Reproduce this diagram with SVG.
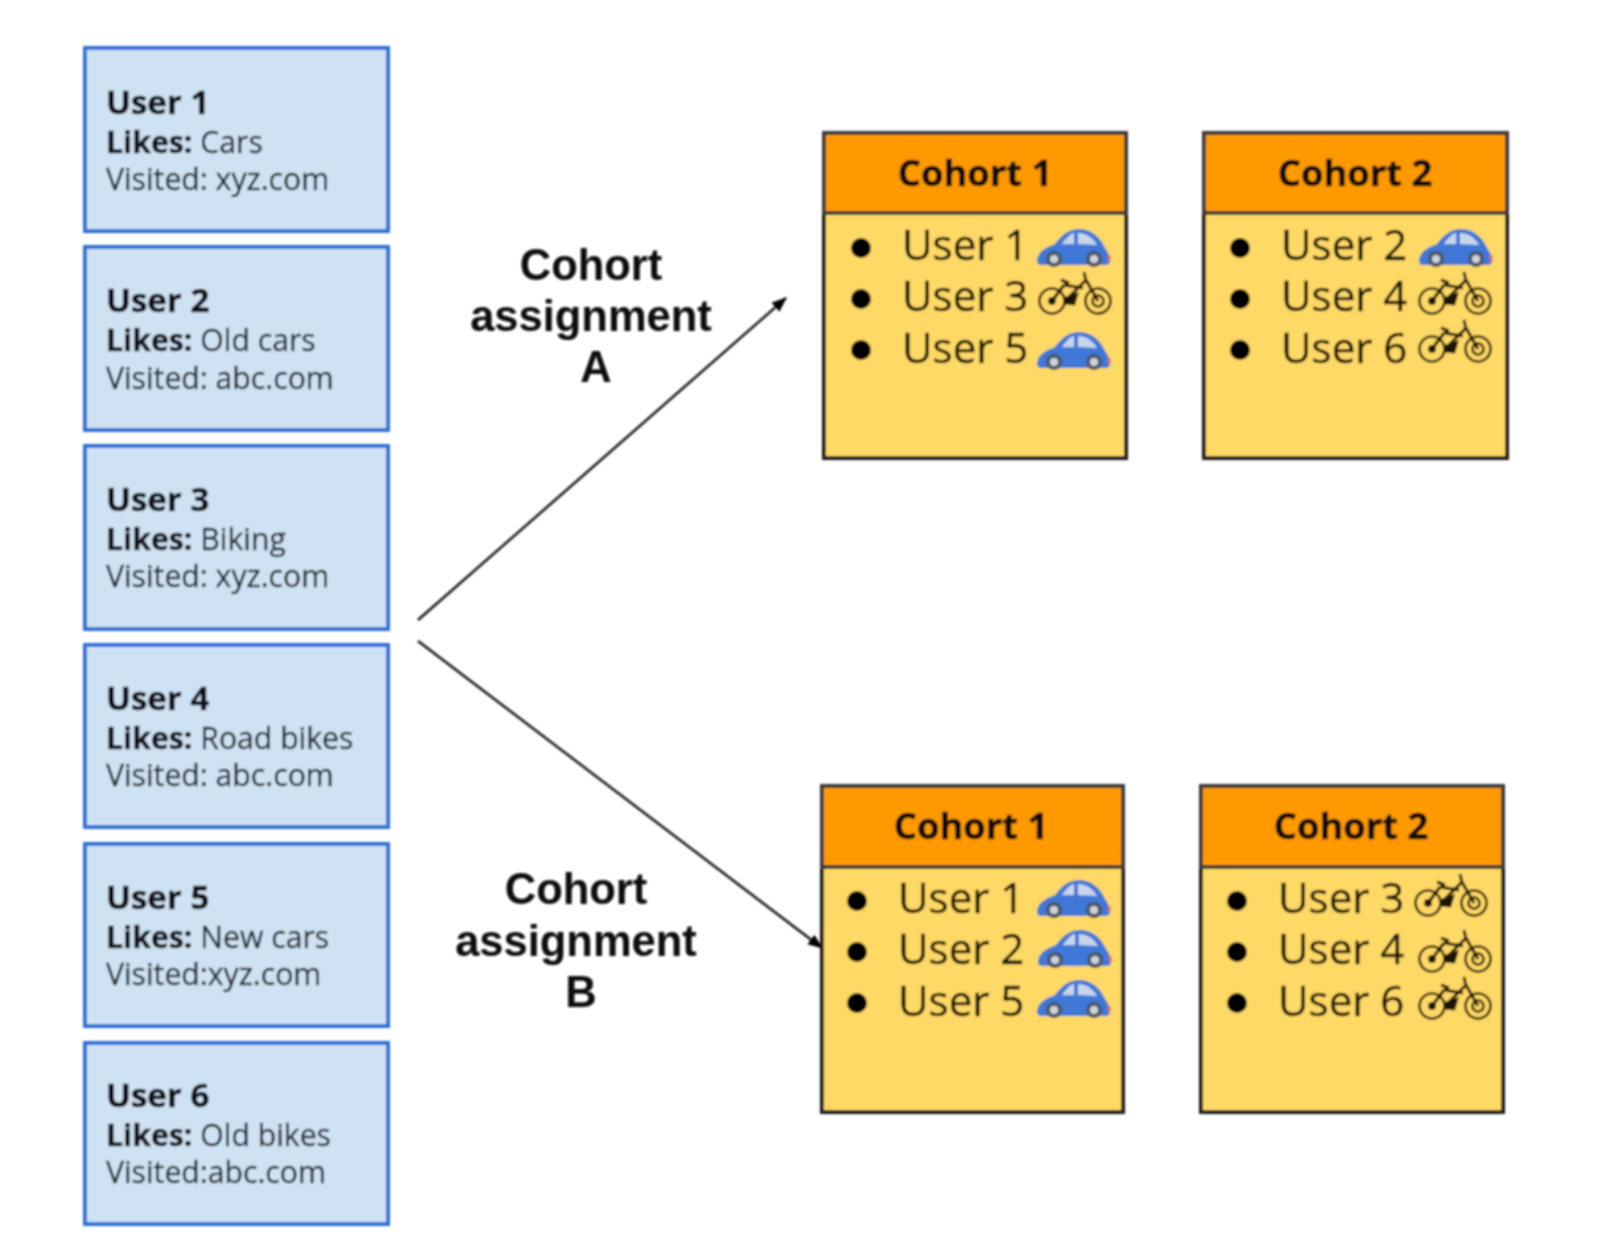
<svg xmlns="http://www.w3.org/2000/svg" xmlns:xlink="http://www.w3.org/1999/xlink" width="1600" height="1255" viewBox="0 0 1600 1255">
<style>
text{font-family:"Open Sans","Noto Sans",sans-serif;fill:#111}
.ub{fill:#cfe2f3;stroke:#2f6fd6;stroke-width:4}
.t1{font-size:33px;font-weight:700;fill:#0c0f14;stroke:#0c0f14;stroke-width:.5}
.t2{font-size:30.2px;fill:#1c2127;stroke:#1c2127;stroke-width:.35}
.t2 .b{font-weight:700;fill:#0c0f13;stroke:#0c0f13;stroke-width:.4}
.hd{fill:#ff9900;stroke:#3a3a3a;stroke-width:4}
.bd{fill:#ffd966;stroke:#1c1c1c;stroke-width:4}
.ht{font-size:36.3px;font-weight:700;text-anchor:middle;fill:#0c0a02;stroke:#0c0a02;stroke-width:.5}
.li{font-size:42px;fill:#171205;stroke:#171205;stroke-width:.45}
.lab{font-family:"Liberation Sans",Arial,sans-serif;font-size:43.5px;font-weight:700;text-anchor:middle;fill:#0a0a0a}
.conn{stroke:#111;stroke-width:2.4;fill:none}
.dot{fill:#000}
</style>
<defs>
<filter id="soft" x="-2%" y="-2%" width="104%" height="104%"><feGaussianBlur stdDeviation="0.8"/></filter>
<marker id="ah" markerUnits="userSpaceOnUse" markerWidth="16" markerHeight="14" refX="14" refY="6" orient="auto"><path d="M0 0L15 6L0 12Z" fill="#000"/></marker>
<g id="car">
<path d="M0 31C1 22 10 18 18 15C25 5 33 0 42 0C53 0 63 7 68 19C71 23 73 27 73 32C73 35 71 36 68 36H4C1 36 0 34 0 31Z" fill="#3f78d8"/>
<path d="M25 15C29 9 33 5 37 4V15ZM41 4C50 4 56 9 60 16L41 15Z" fill="#c9d5e8"/>
<rect x="71" y="26" width="2.5" height="6" fill="#d9654f"/>
<circle cx="17" cy="30" r="8" fill="#4a5568"/><circle cx="17" cy="30" r="4" fill="#d0d4da"/>
<circle cx="57" cy="30" r="8" fill="#4a5568"/><circle cx="57" cy="30" r="4" fill="#d0d4da"/>
</g>
<g id="bike" fill="none" stroke="#1c1604" stroke-width="2.6">
<circle cx="15" cy="29" r="12.5"/><circle cx="15" cy="29" r="2.6" fill="#1c1604"/>
<circle cx="61" cy="29" r="12.5"/><circle cx="61" cy="29" r="5.5"/>
<path d="M15 29L27 13M28 29L49 8L61 29M27 13L46 16M24 8L32 11M47 0L49 9" stroke-width="3"/>
<path d="M29 26L40 22L37 32L28 31Z" fill="#1c1604"/>
</g>
</defs>
<rect width="1600" height="1255" fill="#fff"/>
<g filter="url(#soft)">
<g id="connectors">
<line class="conn" x1="418" y1="620" x2="786" y2="298" marker-end="url(#ah)"/>
<line class="conn" x1="418" y1="641" x2="822" y2="948" marker-end="url(#ah)"/>
</g>
<g id="user1"><rect class="ub" x="85" y="48" width="303" height="183"/><text class="t1" x="106" y="114">User 1</text><text class="t2" x="106" y="153"><tspan class="b">Likes:</tspan> Cars</text><text class="t2" x="106" y="190">Visited: xyz.com</text></g>
<g id="user2"><rect class="ub" x="85" y="247" width="303" height="183"/><text class="t1" x="106" y="312">User 2</text><text class="t2" x="106" y="351"><tspan class="b">Likes:</tspan> Old cars</text><text class="t2" x="106" y="389">Visited: abc.com</text></g>
<g id="user3"><rect class="ub" x="85" y="446" width="303" height="183"/><text class="t1" x="106" y="511">User 3</text><text class="t2" x="106" y="550"><tspan class="b">Likes:</tspan> Biking</text><text class="t2" x="106" y="587">Visited: xyz.com</text></g>
<g id="user4"><rect class="ub" x="85" y="645" width="303" height="182"/><text class="t1" x="106" y="710">User 4</text><text class="t2" x="106" y="749"><tspan class="b">Likes:</tspan> Road bikes</text><text class="t2" x="106" y="786">Visited: abc.com</text></g>
<g id="user5"><rect class="ub" x="85" y="844" width="303" height="182"/><text class="t1" x="106" y="909">User 5</text><text class="t2" x="106" y="948"><tspan class="b">Likes:</tspan> New cars</text><text class="t2" x="106" y="985">Visited:xyz.com</text></g>
<g id="user6"><rect class="ub" x="85" y="1043" width="303" height="181"/><text class="t1" x="106" y="1107">User 6</text><text class="t2" x="106" y="1146"><tspan class="b">Likes:</tspan> Old bikes</text><text class="t2" x="106" y="1183">Visited:abc.com</text></g>
<g id="labelA"><text class="lab" x="591" y="280">Cohort</text><text class="lab" x="591" y="331">assignment</text><text class="lab" x="596" y="382">A</text></g>
<g id="labelB"><text class="lab" x="576" y="904">Cohort</text><text class="lab" x="576" y="956">assignment</text><text class="lab" x="581" y="1007">B</text></g>
<g id="cohortA1">
<rect class="bd" x="824" y="212" width="302" height="246"/><rect class="hd" x="824" y="133" width="302" height="80"/>
<text class="ht" x="975" y="186">Cohort 1</text>
<circle class="dot" cx="861" cy="248" r="10"/><circle class="dot" cx="861" cy="299" r="10"/><circle class="dot" cx="861" cy="350" r="10"/>
<text class="li" x="902" y="260">User 1</text><text class="li" x="902" y="311">User 3</text><text class="li" x="902" y="363">User 5</text>
<use href="#car" x="1037" y="229"/><use href="#bike" x="1037" y="272"/><use href="#car" x="1037" y="332"/>
</g>
<g id="cohortA2">
<rect class="bd" x="1204" y="212" width="303" height="246"/><rect class="hd" x="1204" y="133" width="303" height="80"/>
<text class="ht" x="1355" y="186">Cohort 2</text>
<circle class="dot" cx="1240" cy="248" r="10"/><circle class="dot" cx="1240" cy="299" r="10"/><circle class="dot" cx="1240" cy="350" r="10"/>
<text class="li" x="1281" y="260">User 2</text><text class="li" x="1281" y="311">User 4</text><text class="li" x="1281" y="363">User 6</text>
<use href="#car" x="1419" y="229"/><use href="#bike" x="1417" y="272"/><use href="#bike" x="1417" y="320"/>
</g>
<g id="cohortB1">
<rect class="bd" x="822" y="866" width="301" height="246"/><rect class="hd" x="822" y="786" width="301" height="81"/>
<text class="ht" x="971" y="839">Cohort 1</text>
<circle class="dot" cx="857" cy="901" r="10"/><circle class="dot" cx="857" cy="952" r="10"/><circle class="dot" cx="857" cy="1003" r="10"/>
<text class="li" x="898" y="913">User 1</text><text class="li" x="898" y="964">User 2</text><text class="li" x="898" y="1016">User 5</text>
<use href="#car" x="1037" y="880"/><use href="#car" x="1038" y="930"/><use href="#car" x="1037" y="980"/>
</g>
<g id="cohortB2">
<rect class="bd" x="1201" y="866" width="302" height="246"/><rect class="hd" x="1201" y="786" width="302" height="81"/>
<text class="ht" x="1351" y="839">Cohort 2</text>
<circle class="dot" cx="1237" cy="901" r="10"/><circle class="dot" cx="1237" cy="952" r="10"/><circle class="dot" cx="1237" cy="1003" r="10"/>
<text class="li" x="1278" y="913">User 3</text><text class="li" x="1278" y="964">User 4</text><text class="li" x="1278" y="1016">User 6</text>
<use href="#bike" x="1413" y="874"/><use href="#bike" x="1417" y="930"/><use href="#bike" x="1417" y="977"/>
</g>
</g>
</svg>
